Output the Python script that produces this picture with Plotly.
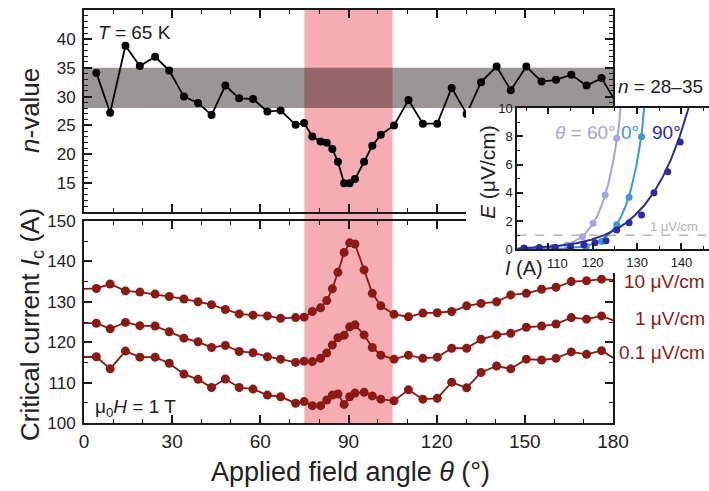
import numpy as np
import plotly.graph_objects as go

W, H = 709, 491
FONT = "Liberation Sans, Arial, sans-serif"
INK = "#1a1a1a"
RED = "#8b1a14"

# ---- field-angle scan (degrees), shared by both panels ----
theta = [4.2, 8.9, 14.1, 19.0, 24.2, 29.0, 34.0, 38.8, 43.4, 48.1, 52.8, 57.5,
         62.4, 66.9, 72.0, 74.9, 77.7, 80.5, 82.6, 84.5, 86.4, 88.5, 90.4, 92.2,
         95.3, 98.1, 101.0, 105.5, 110.4, 115.3, 120.2, 125.1, 130.2, 135.1,
         140.4, 145.2, 150.5, 155.7, 160.6, 165.8, 171.0, 176.1]

# n-value vs angle (plus the next point just past 180 deg)
n_value = [34.1, 27.2, 38.8, 35.3, 36.9, 34.5, 30.0, 28.9, 26.8, 31.9, 29.7, 29.6,
           27.4, 27.6, 25.1, 25.4, 23.1, 22.2, 22.0, 20.9, 18.7, 15.0, 15.0, 15.7,
           18.7, 21.5, 23.4, 25.0, 29.4, 25.3, 25.3, 31.5, 27.0, 32.5,
           35.2, 31.1, 35.2, 32.6, 32.9, 33.8, 31.9, 33.2]
theta_n_next, n_next = 182.0, 28.2

# critical current (A) for three electric-field criteria
ic_10uV = [133.3, 134.4, 132.7, 132.4, 131.9, 131.3, 130.7, 130.0, 129.3, 128.1, 127.0, 126.7,
           126.5, 125.9, 126.1, 126.2, 127.6, 128.5, 130.3, 133.2, 137.3, 142.2, 144.6, 144.3,
           137.9, 132.1, 129.0, 126.9, 126.3, 127.2, 127.3, 127.6, 129.0, 129.6,
           130.0, 131.7, 132.1, 133.1, 133.6, 135.0, 135.2, 135.6]
ic_1uV = [124.7, 123.3, 124.9, 124.1, 124.0, 122.6, 121.0, 120.1, 118.7, 119.2, 117.7, 117.4,
          116.4, 115.8, 115.0, 115.3, 115.2, 116.0, 117.3, 119.3, 121.1, 121.7, 123.8, 124.3,
          121.8, 118.7, 116.8, 115.8, 116.8, 116.0, 116.3, 118.5, 118.5, 120.7,
          121.8, 122.2, 123.7, 124.0, 124.5, 126.1, 125.7, 126.5]
ic_01uV = [116.4, 113.4, 117.8, 116.3, 116.3, 114.8, 112.1, 110.8, 108.8, 110.9, 108.8, 108.4,
           106.9, 106.5, 104.9, 105.3, 104.3, 104.3, 105.7, 106.9, 107.2, 104.6, 106.5, 107.4,
           107.6, 106.7, 105.9, 105.5, 108.2, 105.9, 106.1, 110.1, 108.7, 112.5,
           114.1, 113.4, 115.8, 115.6, 116.0, 117.6, 117.0, 117.9]
# neighbouring scan points just outside 0-180 deg
theta_ic_prev, theta_ic_next = -3.0, 182.0
ic_prev = [133.1, 124.7, 116.3]
ic_next = [135.3, 124.9, 115.3]
criteria = ["10 \u03bcV/cm", "1 \u03bcV/cm", "0.1 \u03bcV/cm"]

# shaded regions
band_theta = [75, 105]
band_n = [28, 35]

# ---- E-I curves (inset) ----
iv_labels = ["60\u00b0", "0\u00b0", "90\u00b0"]
iv_colors = ["#a7a3e4", "#3d98d6", "#2c2ca0"]
iv_current = [
    [104.5, 107.5, 111.0, 114.2, 117.7, 120.1, 122.8, 125.4],
    [104.5, 108.0, 111.5, 115.0, 118.5, 122.0, 125.4, 128.2, 131.0],
    [104.5, 108.0, 111.5, 115.0, 118.0, 120.5, 123.0, 125.4, 128.2, 131.0, 133.8, 136.9, 139.7],
]
iv_field = [
    [0.08, 0.08, 0.12, 0.30, 0.89, 1.84, 3.84, 7.86],
    [0.05, 0.06, 0.08, 0.10, 0.20, 0.55, 1.73, 3.68, 7.97],
    [0.10, 0.12, 0.15, 0.20, 0.30, 0.47, 0.61, 1.37, 1.88, 2.43, 4.00, 5.48, 7.60],
]
# power-law fit parameters E = Ec (I/Ic)^n
fit_ic = [117.9, 123.4, 122.6]
fit_n = [33.0, 35.0, 16.0]
fit_ec = 1.0
inset_irange = [103.0, 146.2]
inset_ticks = [110, 120, 130, 140]


def px(x):
    return x / W


def py(y):
    return 1 - y / H


dom_x = [px(84), px(613)]
dom_top = [py(212), py(10)]
dom_bot = [py(423), py(221)]
dom_cover_x = [px(466), 1.0]
dom_cover_y = [py(273), py(108)]
dom_in_x = [px(517.3), 1.0]
dom_in_y = [py(249.3), py(108)]

fig = go.Figure()

# n-value
fig.add_trace(go.Scatter(
    x=theta + [theta_n_next], y=n_value + [n_next], mode="lines+markers",
    line=dict(color="black", width=1.8), marker=dict(color="black", size=8),
    xaxis="x", yaxis="y", showlegend=False, hoverinfo="skip"))

# critical current curves
for vals, p, q in zip([ic_10uV, ic_1uV, ic_01uV], ic_prev, ic_next):
    fig.add_trace(go.Scatter(
        x=[theta_ic_prev] + theta + [theta_ic_next], y=[p] + vals + [q],
        mode="lines+markers", line=dict(color=RED, width=1.8),
        marker=dict(color=RED, size=9), xaxis="x2", yaxis="y2",
        showlegend=False, hoverinfo="skip"))

# blank panel that masks the area behind the inset
fig.add_trace(go.Scatter(x=[0], y=[0], mode="markers", marker=dict(opacity=0),
                         xaxis="x3", yaxis="y3", showlegend=False, hoverinfo="skip"))

# inset: fits and data
i_grid = np.linspace(inset_irange[0], inset_irange[1], 400)
for k in range(3):
    e_fit = fit_ec * (i_grid / fit_ic[k]) ** fit_n[k]
    fig.add_trace(go.Scatter(
        x=i_grid, y=e_fit, mode="lines", line=dict(color=iv_colors[k], width=2),
        xaxis="x4", yaxis="y4", showlegend=False, hoverinfo="skip"))
    fig.add_trace(go.Scatter(
        x=iv_current[k], y=iv_field[k], mode="markers",
        marker=dict(color=iv_colors[k], size=7), cliponaxis=True,
        xaxis="x4", yaxis="y4", showlegend=False, hoverinfo="skip"))

base = dict(showline=True, linecolor=INK, linewidth=2, ticks="inside",
            tickcolor=INK, tickwidth=1.5, ticklen=8, mirror="ticks",
            showgrid=False, zeroline=False, automargin=False,
            tickfont=dict(family=FONT, size=17, color="#222"))
minor = lambda d, ln=4: dict(ticks="inside", dtick=d, tick0=0, ticklen=ln,
                             tickcolor=INK, tickwidth=1.2, showgrid=False)

# first inset label is nudged right of the axis title, so it is written separately
inset_ticktext = [""] + [str(v) for v in inset_ticks[1:]]

fig.update_layout(
    width=W, height=H, margin=dict(l=0, r=0, t=0, b=0, autoexpand=False),
    paper_bgcolor="white", plot_bgcolor="white",
    font=dict(family=FONT, color="#222"),
    xaxis=dict(base, domain=dom_x, range=[0, 180], anchor="y",
               tickvals=list(range(0, 181, 30)), showticklabels=False,
               minor=minor(10)),
    yaxis=dict(base, domain=dom_top, range=[10, 45], anchor="x",
               tickvals=list(range(15, 41, 5)), minor=minor(1),
               ticklabelstandoff=3),
    xaxis2=dict(base, domain=dom_x, range=[0, 180], anchor="y2",
                tickvals=list(range(0, 181, 30)), minor=minor(10),
                tickfont=dict(family=FONT, size=19, color="#222")),
    yaxis2=dict(base, domain=dom_bot, range=[100, 150], anchor="x2",
                tickvals=list(range(100, 151, 10)), minor=minor(5),
                ticklabelstandoff=3),
    xaxis3=dict(domain=dom_cover_x, range=[0, 1], anchor="y3", visible=False),
    yaxis3=dict(domain=dom_cover_y, range=[0, 1], anchor="x3", visible=False),
    xaxis4=dict(base, domain=dom_in_x, range=inset_irange, anchor="y4",
                tickvals=inset_ticks, ticktext=inset_ticktext,
                minor=minor(5, 3), ticklen=6,
                tickfont=dict(family=FONT, size=13, color="#222")),
    yaxis4=dict(base, domain=dom_in_y, range=[0, 10], anchor="x4", mirror=False,
                tickvals=list(range(0, 11, 2)), minor=minor(1, 3), ticklen=6,
                tickfont=dict(family=FONT, size=13, color="#222")),
)

# shaded angle window spanning both panels, and the n-value band
fig.add_shape(type="rect", xref="x2", yref="paper", x0=band_theta[0], x1=band_theta[1],
              y0=dom_bot[0], y1=dom_top[1], fillcolor="#f5adb3", line_width=0,
              layer="below")
fig.add_shape(type="rect", xref="x", yref="y", x0=0, x1=180, y0=band_n[0], y1=band_n[1],
              fillcolor="rgba(15,5,5,0.42)", line_width=0, layer="below")
# 1 uV/cm criterion in the inset
fig.add_shape(type="line", xref="x4", yref="y4", x0=inset_irange[0], x1=inset_irange[1],
              y0=1, y1=1, line=dict(color="#b4b4b4", width=1.5, dash="dash"),
              layer="below")


def note(text, x, y, size, color="#222", xanchor="center", angle=0):
    fig.add_annotation(text=text, x=px(x), y=py(y), xref="paper", yref="paper",
                       xanchor=xanchor, yanchor="middle", showarrow=False,
                       textangle=angle, font=dict(family=FONT, size=size, color=color))


note("Applied field angle <i>\u03b8</i> (\u00b0)", 350, 472, 27)
note("<i>n</i>-value", 30, 110, 26, angle=-90)
note("Critical current <i>I</i><sub>c</sub> (A)", 31, 325, 26, angle=-90)
note("<i>T</i> = 65 K", 96, 32, 19, xanchor="left")
note("\u03bc<sub>0</sub><i>H</i> = 1 T", 93, 408, 19, xanchor="left")
note("<i>n</i> = 28\u201335", 705, 86, 19, xanchor="right")
for lbl, yy in zip(criteria, [281, 318, 352]):
    note(lbl, 707, yy, 19, color=RED, xanchor="right")

# inset labels
note("<i>\u03b8</i> = " + iv_labels[0], 553, 133, 19, color=iv_colors[0], xanchor="left")
note(iv_labels[1], 619, 133, 19, color=iv_colors[1], xanchor="left")
note(iv_labels[2], 650, 133, 19, color=iv_colors[2], xanchor="left")
note("1 \u03bcV/cm", 700, 226, 13, color="#b4b4b4", xanchor="right")
note("<i>E</i> (\u03bcV/cm)", 487, 172, 21, angle=-90)
note("<i>I</i> (A)", 524, 268, 20)
note(str(inset_ticks[0]), 557, 263, 13)

fig.write_html("out.html")
